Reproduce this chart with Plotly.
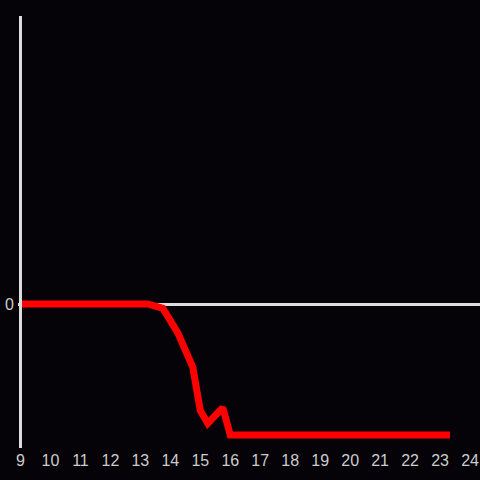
import plotly.graph_objects as go

hours = [9.0, 13.25, 13.75, 14.25, 14.75, 15.0, 15.25, 15.75, 16.0, 23.33]
values = [0.0, 0.0, -0.03, -0.2, -0.44, -0.74, -0.83, -0.72, -0.91, -0.91]
x_ticks = list(range(9, 25))

fig = go.Figure(go.Scatter(x=hours, y=values, mode="lines",
                           line=dict(color="#ff0000", width=7), hoverinfo="skip"))
fig.update_layout(
    width=480, height=480,
    paper_bgcolor="#050307", plot_bgcolor="#050307",
    margin=dict(l=18, r=0, t=16, b=32),
    showlegend=False,
    font=dict(family="Liberation Sans, Arial", size=16, color="#cccccc"),
    shapes=[dict(type="line", xref="x", yref="paper", x0=9, x1=9, y0=0, y1=1,
                 line=dict(color="#dddddd", width=3), layer="above")],
)
fig.update_xaxes(range=[8.917, 24.333], tickvals=x_ticks, ticktext=[str(t) for t in x_ticks],
                 showgrid=False, zeroline=False, showline=False, ticks="", ticklabelstandoff=1)
fig.update_yaxes(range=[-1, 2], tickvals=[0], ticktext=["0"], showgrid=False,
                 zeroline=True, zerolinecolor="#dddddd", zerolinewidth=3,
                 showline=False, ticks="", ticklabelstandoff=3)
fig.write_html("out.html", config={"displayModeBar": False},
               post_script="document.body.style.margin='0';document.body.style.background='#050307';")
